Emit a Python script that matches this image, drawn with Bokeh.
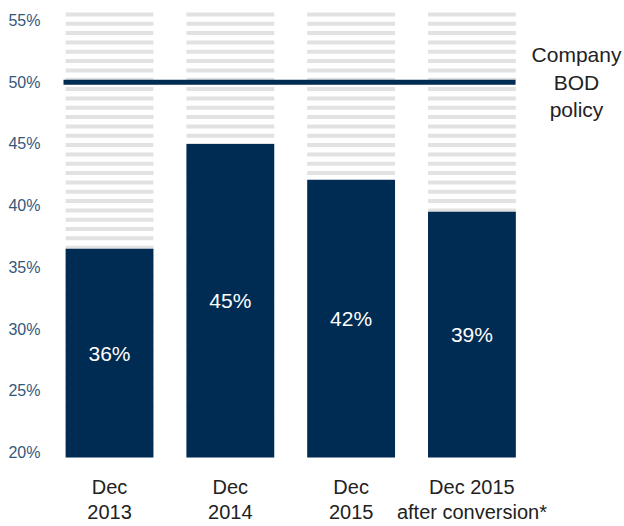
import numpy as np
from bokeh.plotting import figure
from bokeh.models import Range1d, FixedTicker, ColumnDataSource
from bokeh.core.properties import value
from bokeh.embed import file_html
from bokeh.resources import INLINE

# ---- data ----
categories = ["Dec\n2013", "Dec\n2014", "Dec\n2015", "Dec 2015\nafter conversion*"]
shares = [36.5, 45.0, 42.1, 39.5]
share_labels = ["36%", "45%", "42%", "39%"]
policy_level = 50.0
policy_label = "Company\nBOD\npolicy"
y_ticks = [20, 25, 30, 35, 40, 45, 50, 55]
y_tick_labels = ["20%", "25%", "30%", "35%", "40%", "45%", "50%", "55%"]

NAVY = "#002b52"
STRIPE = "#e2e2e2"
FONT = "Liberation Sans"

xs = list(range(len(categories)))
bar_bottom = 19.6
bar_w = 0.727
y_top, y_bot = 56.62, 14.0

p = figure(width=624, height=526, output_backend="svg", toolbar_location=None,
           x_range=Range1d(-0.530, 4.263), y_range=Range1d(y_bot, y_top),
           x_axis_location=None,
           min_border_left=45, min_border_right=0, min_border_top=0, min_border_bottom=0)
p.outline_line_color = None
p.grid.visible = False
p.background_fill_color = "white"

# striped background columns
stripe_y = np.arange(55.49, bar_bottom, -0.756)
sx, sy = [], []
for x in xs:
    for y in stripe_y:
        sx.append(x)
        sy.append(y)
p.rect(x=sx, y=sy, width=bar_w, height=0.324, fill_color=STRIPE, line_color=None)

# bars
src = ColumnDataSource(dict(x=xs, top=shares, lab=share_labels, cat=categories,
                            mid=[(s + bar_bottom) / 2 for s in shares]))
p.vbar(x="x", top="top", bottom=bar_bottom, width=bar_w, source=src,
       fill_color=NAVY, line_color=None)
p.text(x="x", y="mid", text="lab", source=src, text_align="center",
       text_baseline="middle", text_color="white", text_font=value(FONT),
       text_font_size="21px")

# category labels (below the bars)
p.text(x="x", y=16.18, text="cat", source=src, text_align="center",
       text_baseline="middle", text_color="#222222", text_font=value(FONT),
       text_font_size="20px", text_line_height=1.1)

# policy line
p.segment(x0=[-0.381], y0=[policy_level], x1=[3.361], y1=[policy_level],
          line_color=NAVY, line_width=5)
p.text(x=[3.866], y=[policy_level], text=[policy_label], text_align="center",
       text_baseline="middle", text_color="#222222", text_font=value(FONT),
       text_font_size="21px", text_line_height=1.2)

# y axis
ya = p.yaxis[0]
ya.ticker = FixedTicker(ticks=y_ticks)
ya.major_label_overrides = {t: l for t, l in zip(y_ticks, y_tick_labels)}
ya.axis_line_color = None
ya.major_tick_line_color = None
ya.minor_tick_line_color = None
ya.major_tick_out = 0
ya.major_tick_in = 0
ya.major_label_standoff = 5
ya.major_label_text_font = FONT
ya.major_label_text_font_size = "16px"
ya.major_label_text_color = "#34587a"

open("out.html", "w").write(file_html(p, INLINE))
